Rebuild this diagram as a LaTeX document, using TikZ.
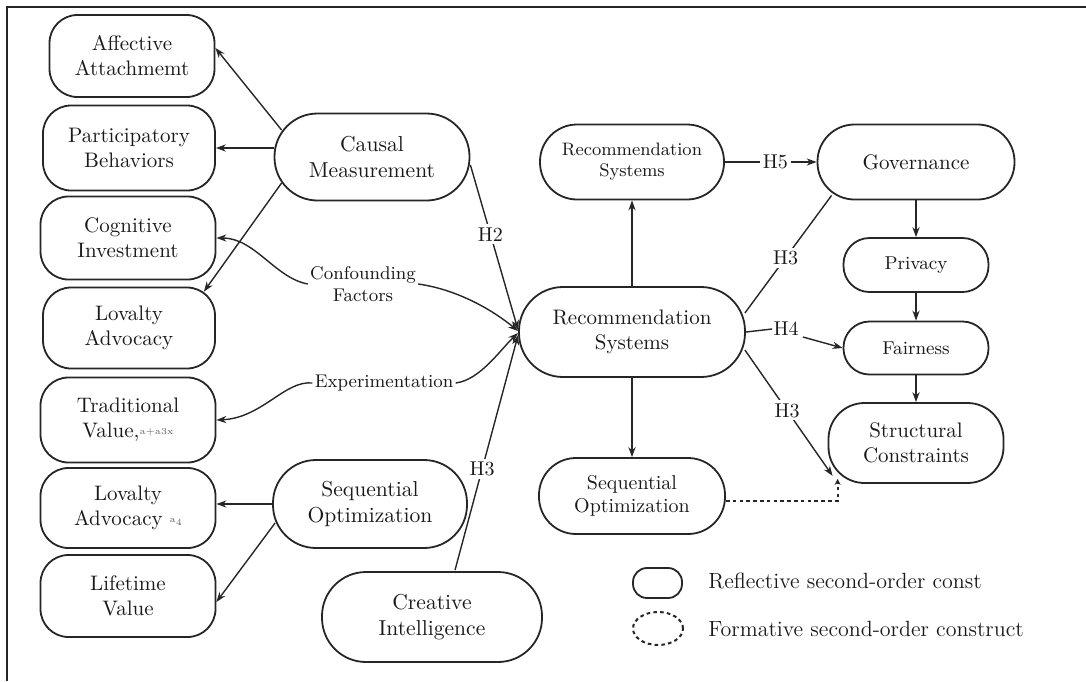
\documentclass[tikz,border=0pt]{standalone}
\usetikzlibrary{arrows.meta,calc,shapes.geometric}
\begin{document}
\begin{tikzpicture}[x=0.5pt,y=-0.5pt]
\tikzset{
  box/.style={draw=black!85, line width=0.9pt, rectangle, align=center, inner sep=0pt,
    text=black!90, font=\fontsize{10.5}{12.5}\selectfont},
  smallbox/.style={box, font=\fontsize{9.3}{11}\selectfont},
  ln/.style={line width=0.7pt, draw=black!85},
  arr/.style={ln, -{Stealth[length=5pt,width=3.6pt]}},
  formative/.style={line width=1pt, dash pattern=on 1.8pt off 1.6pt},
  lbl/.style={fill=white, inner sep=1.5pt, text=black!90, font=\fontsize{10}{12}\selectfont},
  note/.style={fill=white, inner sep=1pt, align=center, text=black!90, font=\fontsize{9.2}{11}\selectfont},
  legtext/.style={anchor=west, inner sep=0pt, text=black!90, font=\fontsize{11}{13}\selectfont}
}
\useasboundingbox (0,0) rectangle (1086,681);
% frame
\draw[line width=1.2pt, black!85] (7,681) -- (7,7) -- (1086,7);

% left column of first-order constructs
\node[box, minimum width=82.5pt, minimum height=41pt, rounded corners=14pt] (aff) at (132,56) {Affective\\Attachmemt};
\node[box, minimum width=86pt, minimum height=42.5pt, rounded corners=14pt] (par) at (129,148) {Participatory\\Behaviors};
\node[box, minimum width=87.5pt, minimum height=41.5pt, rounded corners=14pt] (cog) at (128,238) {Cognitive\\Investment};
\node[box, minimum width=86pt, minimum height=40.5pt, rounded corners=14pt] (lov) at (129,328) {Lovalty\\Advocacy};
\node[box, minimum width=87.5pt, minimum height=42.5pt, rounded corners=14pt] (tra) at (128,420) {Traditional\\Value,{\fontsize{4.5}{5}\selectfont\raisebox{0.9ex}{\color{black!60}a+a3x}}};
\node[box, minimum width=87.5pt, minimum height=40pt, rounded corners=14pt] (lov2) at (128,508) {Lovalty\\Advocacy {\fontsize{4.5}{5}\selectfont\raisebox{0.9ex}{\color{black!60}a}\raisebox{0.1ex}{\color{black!60}4}}};
\node[box, minimum width=87.5pt, minimum height=41pt, rounded corners=14pt] (lif) at (128,596) {Lifetime\\Value};

% second-order constructs
\node[box, minimum width=97.5pt, minimum height=43.5pt, rounded corners=21.5pt, font=\fontsize{10.8}{12.8}\selectfont] (cm) at (372,157) {Causal\\Measurement};
\node[box, minimum width=97pt, minimum height=44pt, rounded corners=21.5pt, font=\fontsize{10.8}{12.8}\selectfont] (so) at (370,504) {Sequential\\Optimization};
\node[box, minimum width=110pt, minimum height=45pt, rounded corners=22pt, font=\fontsize{10.8}{12.8}\selectfont] (ci) at (432,617) {Creative\\Intelligence};

% central construct and its outcomes
\node[box, minimum width=113pt, minimum height=45pt, rounded corners=22pt] (rs) at (632,332) {Recommendation\\Systems};
\node[smallbox, minimum width=92pt, minimum height=37.5pt, rounded corners=18.5pt, font=\fontsize{9}{10.5}\selectfont] (rst) at (632,162) {Recommendation\\Systems};
\node[box, minimum width=93pt, minimum height=38pt, rounded corners=18.5pt, font=\fontsize{10}{11.5}\selectfont] (seq) at (632,496) {Sequential\\Optimization};
\node[box, minimum width=98.5pt, minimum height=37.5pt, rounded corners=18.5pt] (gov) at (916,162) {Governance};
\node[smallbox, minimum width=72.5pt, minimum height=27pt, rounded corners=13pt] (pri) at (916,265) {Privacy};
\node[smallbox, minimum width=72.5pt, minimum height=26.5pt, rounded corners=13pt] (fai) at (916,348) {Fairness};
\node[box, minimum width=87.5pt, minimum height=40pt, rounded corners=18pt] (str) at (916,443) {Structural\\Constraints};

% reflective paths on the left
\draw[arr] ($(cm.west)+(8,-27)$) -- ($(aff.east)+(0,-8)$);
\draw[arr] ($(cm.west)+(0,-9)$) -- (par.east |- 0,148);
\draw[arr] ($(cm.west)+(8,26)$) -- ($(lov.north east)+(-12,5)$);
\draw[arr] (so.west) -- (lov2.east |- so.west);
\draw[arr] ($(so.west)+(3,19)$) -- ($(lif.east)+(0,6)$);

% confounding factors and experimentation
\node[note] (cf) at (363,284) {Confounding\\Factors};
\node[note] (ex) at (384,383) {Experimentation};
\draw[arr] (cf.west) .. controls (275,278) and (255,238) .. (cog.east);
\draw[arr] (cf.east) .. controls (460,290) and (495,312) .. ($(rs.west)+(0,-1)$);
\draw[arr] (ex.west) .. controls (285,380) and (262,418) .. (tra.east);
\draw[arr] (ex.east) .. controls (480,380) and (500,350) .. ($(rs.west)+(0,1)$);

% hypothesised paths into the central construct
\draw[arr] ($(cm.east)+(0,8)$) -- node[lbl, pos=0.42] {H2} ($(rs.west)+(0,-2)$);
\draw[arr] ($(ci.north)+(23,-1)$) -- node[lbl, pos=0.43] {H3} ($(rs.west)+(0,3)$);

% paths on the right
\draw[arr] (rs.north) -- (rst.south);
\draw[arr] (rst.east) -- node[lbl, pos=0.55] {H5} (gov.west);
\draw[ln] ($(rs.east)+(-1,-19)$) -- node[lbl, pos=0.47] {H3} ($(gov.south west)+(15,-5)$);
\node[lbl, inner sep=0.5pt] (h4) at (786,329) {H4};
\draw[ln] (rs.east) -- (h4.west);
\draw[arr] ($(h4.east)+(3,8)$) -- (fai.west);
\draw[arr] ($(rs.east)+(-1,18)$) -- node[lbl, pos=0.48] {H3} ($(str.south west)+(5,-8)$);
\draw[arr] (gov.south) -- (pri.north);
\draw[arr] (pri.south) -- (fai.north);
\draw[arr] (fai.south) -- (str.north);
\draw[arr] (rs.south) -- (seq.north);
\draw[ln, formative, -{Stealth[length=3pt,width=3pt]}] ($(seq.east)+(0,5)$) -| ($(str.south west)+(10,-5)$);

% legend
\node[box, minimum width=24.5pt, minimum height=15pt, rounded corners=7pt] (lg1) at (657.5,583) {};
\node[ellipse, draw=black!85, formative, minimum width=25pt, minimum height=16.5pt, inner sep=0pt] (lg2) at (658,628.5) {};
\node[legtext] (lt1) at (708,581) {Reflective second-order const};
\node[legtext] (lt2) at (708,629) {Formative second-order construct};
\end{tikzpicture}
\end{document}
